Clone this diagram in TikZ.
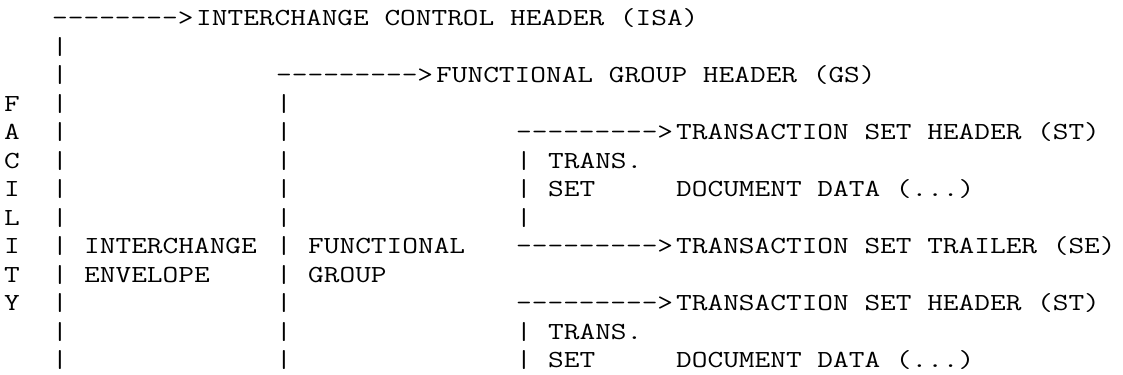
\documentclass[tikz,border=0pt]{standalone}
\usepackage{fontspec}
\setmonofont{Latin Modern Mono}[FakeStretch=1.244]
\newcommand\segfont{\ttfamily\fontsize{24.5pt}{28.5pt}\selectfont}

\begin{document}
\begin{tikzpicture}[x=16pt, y=-28.5pt,
    every node/.style={anchor=base west, inner sep=0pt, font=\segfont}]
    \useasboundingbox (-0.25,-0.912) rectangle (69.94,12.246);
    % facility, spelled down the left edge
    \foreach \ch [count=\r from 3] in {F,A,C,I,L,I,T,Y}
        \draw (0,\r) node (fac\r) {\ch};
    % bars of the interchange, the group and both transaction sets
    \foreach \r in {1,...,12}
        \draw (3,\r) node (isabar\r) {|};
    \foreach \r in {3,...,12}
        \draw (17,\r) node (gsbar\r) {|};
    \foreach \r in {5,6,7,11,12}
        \draw (32,\r) node (stbar\r) {|};
    % headers and trailer, each with its arrow
    \draw (3,0) node (isaarrow) {-------->};
    \draw (12,0) node (isa) {INTERCHANGE CONTROL HEADER (ISA)};
    \draw (17,2) node (gsarrow) {--------->};
    \draw (27,2) node (gs) {FUNCTIONAL GROUP HEADER (GS)};
    \draw (32,4) node (starrowa) {--------->};
    \draw (42,4) node (sta) {TRANSACTION SET HEADER (ST)};
    \draw (32,8) node (searrow) {--------->};
    \draw (42,8) node (se) {TRANSACTION SET TRAILER (SE)};
    \draw (32,10) node (starrowb) {--------->};
    \draw (42,10) node (stb) {TRANSACTION SET HEADER (ST)};
    % names written between the bars
    \draw (5,8) node (envtop) {INTERCHANGE};
    \draw (5,9) node (envbot) {ENVELOPE};
    \draw (19,8) node (grptop) {FUNCTIONAL};
    \draw (19,9) node (grpbot) {GROUP};
    \draw (34,5) node (transa) {TRANS.};
    \draw (34,6) node (seta) {SET};
    \draw (42,6) node (dataa) {DOCUMENT DATA (...)};
    \draw (34,11) node (transb) {TRANS.};
    \draw (34,12) node (setb) {SET};
    \draw (42,12) node (datab) {DOCUMENT DATA (...)};
\end{tikzpicture}
\end{document}
